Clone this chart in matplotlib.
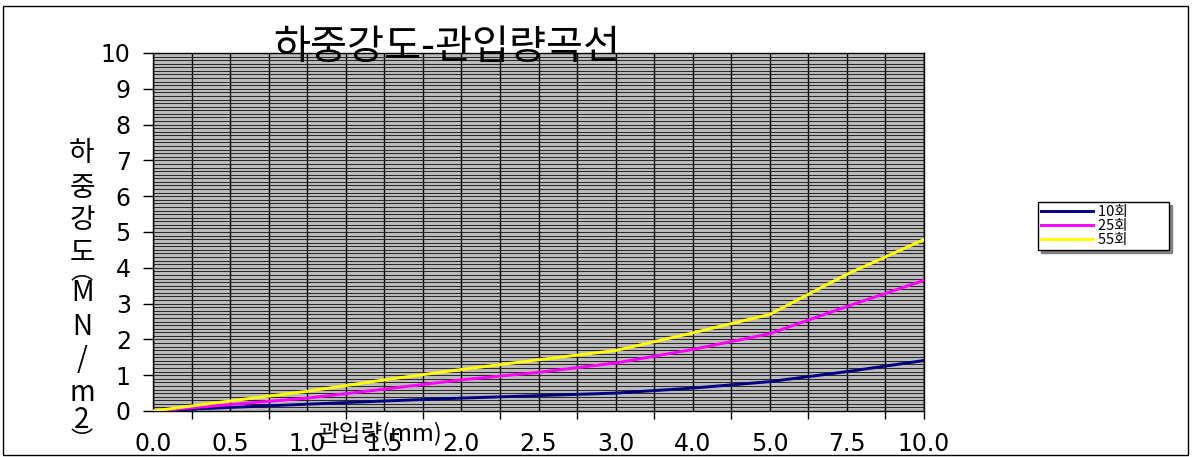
import matplotlib
matplotlib.use('Agg')
import matplotlib.pyplot as plt
from matplotlib.patches import Rectangle
from matplotlib.ticker import MultipleLocator, FixedLocator

plt.rcParams['font.family'] = ['Noto Sans CJK KR', 'DejaVu Sans']

# penetration (mm) categories
categories = ['0.0', '0.5', '1.0', '1.5', '2.0', '2.5', '3.0', '4.0', '5.0', '7.5', '10.0']

# load intensity (MN/m2)
load_10 = [0, 0.10, 0.19, 0.28, 0.36, 0.43, 0.50, 0.64, 0.82, 1.10, 1.41]
load_25 = [0, 0.18, 0.36, 0.61, 0.87, 1.08, 1.34, 1.72, 2.16, 2.92, 3.65]
load_55 = [0, 0.28, 0.55, 0.87, 1.16, 1.43, 1.69, 2.18, 2.70, 3.82, 4.79]

series_names = ['10회', '25회', '55회']
series_colors = ['#000080', '#FF00FF', '#FFFF00']

W, H = 1192, 457
fig = plt.figure(figsize=(W / 100, H / 100), dpi=100)
ax = fig.add_axes([153 / W, 1 - 411 / H, 771 / W, 358 / H])

x = list(range(len(categories)))
for vals, name, c in zip([load_10, load_25, load_55], series_names, series_colors):
    ax.plot(x, vals, color=c, lw=2.1, label=name + '            ', zorder=3)

ax.set_xlim(0, len(categories) - 1)
ax.set_ylim(0, 10)
ax.set_facecolor('#bababa')

ax.set_xticks(x)
ax.set_xticklabels(categories)
ax.xaxis.set_minor_locator(FixedLocator([k + 0.5 for k in range(len(categories) - 1)] + [len(categories) - 1]))
ax.xaxis.remove_overlapping_locs = False
ax.yaxis.set_major_locator(MultipleLocator(1))
ax.yaxis.set_minor_locator(MultipleLocator(0.1))

ax.tick_params(axis='x', which='major', length=0, pad=15)
ax.tick_params(axis='x', which='minor', length=6, width=1, direction='out')
ax.tick_params(axis='y', which='major', length=7, width=1, pad=9)
ax.tick_params(axis='y', which='minor', length=0)
for lab in ax.get_xticklabels() + ax.get_yticklabels():
    lab.set_fontfamily('DejaVu Sans')
    lab.set_fontsize(17)

ax.grid(axis='x', which='both', color='black', lw=1)
ax.grid(axis='y', which='both', color='#262626', lw=0.7)
ax.set_axisbelow(True)
for s in ax.spines.values():
    s.set_color('black')
    s.set_linewidth(1)

# title and axis labels
fig.text(447 / W, 1 - 48 / H, '하중강도-관입량곡선', ha='center', va='center', fontsize=29, zorder=5)
fig.text(380 / W, 1 - 434 / H, '관입량(mm)', ha='center', va='center', fontsize=17, zorder=5)

ylab_chars = ['하', '중', '강', '도', '︵', 'M', 'N', '/', 'm', '2', '︶']
ylab_pos = [153, 188, 220, 253, 272, 293, 327, 360, 393, 420, 440]
for ch, yp in zip(ylab_chars, ylab_pos):
    fs = 16 if ch in '︵︶' else 20
    fig.text(82 / W, 1 - yp / H, ch, ha='center', va='center', fontsize=fs)

leg = fig.legend(loc='upper left', bbox_to_anchor=(1038 / W, 1 - 202 / H), borderaxespad=0,
                 fontsize=10.5, handlelength=3.6, handletextpad=0.3, labelspacing=0.0,
                 borderpad=0.2, frameon=True, fancybox=False, edgecolor='black',
                 shadow={'color': '#808080', 'alpha': 1})
leg.get_frame().set_linewidth(1)

# outer chart border
fig.patches.append(Rectangle((3 / W, 2 / H), 1185 / W, 449 / H, transform=fig.transFigure,
                             fill=False, ec='black', lw=1))

fig.savefig('out.png', dpi=100)
